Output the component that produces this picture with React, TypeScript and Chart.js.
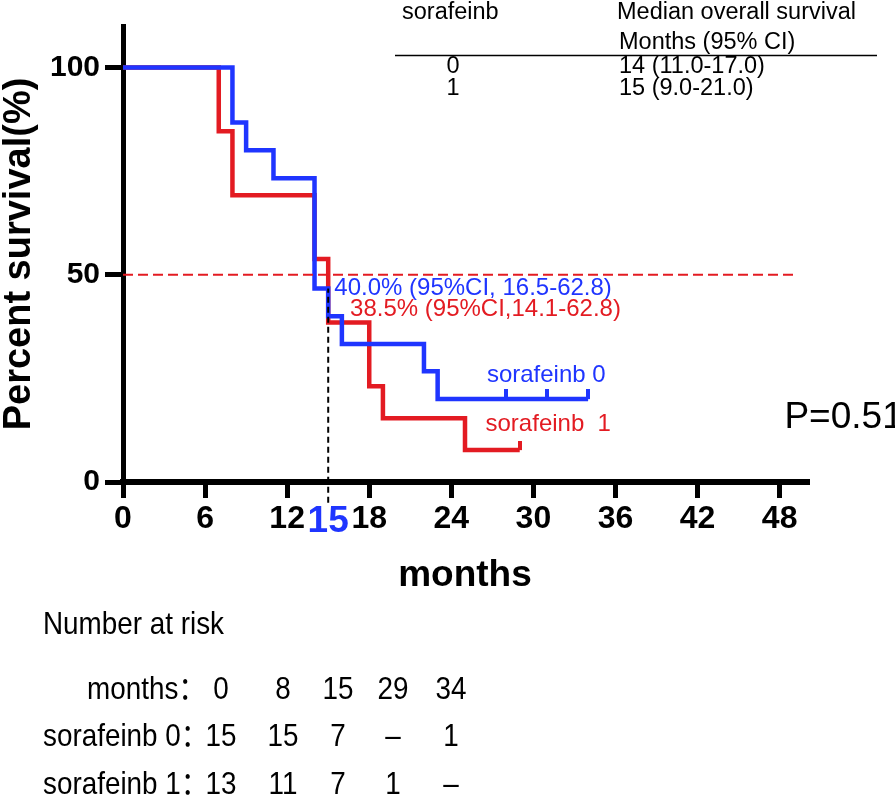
import { useEffect, useRef } from "react"
import { Chart, registerables } from "chart.js"

Chart.register(...registerables)

const FONT = '"Liberation Sans", Arial, "Noto Sans CJK SC", sans-serif'
const BLUE = "#1f35ff"
const RED = "#e31b22"

// axis ticks
const xTicks = [0, 6, 12, 15, 18, 24, 30, 36, 42, 48]
const yTicks = [0, 50, 100]

// Kaplan-Meier steps, sorafeinb 0
const months0 = [0, 8, 9, 11, 14, 15, 16, 22, 23, 34]
const survival0 = [100, 86.7, 80.0, 73.3, 46.7, 40.0, 33.3, 26.7, 20.0, 20.0]
const censorMonths0 = [28, 31, 34]
const censorSurvival0 = [20.0, 20.0, 20.0]

// Kaplan-Meier steps, sorafeinb 1
const months1 = [0, 7, 8, 14, 15, 18, 19, 25, 29]
const survival1 = [100, 84.6, 69.2, 53.8, 38.5, 23.1, 15.4, 7.7, 7.7]
const censorMonths1 = [29]
const censorSurvival1 = [7.7]

// reference lines
const medianMonths = [0, 49]
const medianSurvival = [50, 50]
const landmarkMonths = [15, 15]
const landmarkSurvival = [-5, 46.7]

// text
const landmarkLabel0 = "40.0% (95%CI, 16.5-62.8)"
const landmarkLabel1 = "38.5% (95%CI,14.1-62.8)"
const seriesNames = ["sorafeinb 0", "sorafeinb  1"]
const pValue = "P=0.51"

const medianHeader = ["sorafeinb", "Median overall survival", "Months (95% CI)"]
const medianGroups = ["0", "1"]
const medianValues = ["14 (11.0-17.0)", "15 (9.0-21.0)"]

const riskTitle = "Number at risk"
const riskRowLabels = ["months：", "sorafeinb 0：", "sorafeinb 1："]
const riskMonths = ["0", "8", "15", "29", "34"]
const risk0 = ["15", "15", "7", "–", "1"]
const risk1 = ["13", "11", "7", "1", "–"]

const toPoints = (xs: number[], ys: number[]) => xs.map((x, i) => ({ x, y: ys[i] }))

function tickMark(color: string, rise: number) {
  const c = document.createElement("canvas")
  c.width = 4
  c.height = rise * 2
  const g = c.getContext("2d")
  if (g) {
    g.fillStyle = color
    g.fillRect(0, 0, 4, rise)
  }
  return c
}

const textPlugin = {
  id: "kmText",
  afterDraw(chart: any) {
    const { ctx } = chart
    const xs = chart.scales.x
    const ys = chart.scales.y
    const put = (
      text: string,
      px: number,
      py: number,
      color: string,
      size: number,
      align: CanvasTextAlign = "left",
      squeeze = 1,
    ) => {
      ctx.save()
      ctx.font = `${size}px ${FONT}`
      ctx.fillStyle = color
      ctx.textAlign = align
      ctx.textBaseline = "middle"
      ctx.translate(px, py)
      ctx.scale(squeeze, 1)
      ctx.fillText(text, 0, 0)
      ctx.restore()
    }

    // annotations anchored in data space
    put(landmarkLabel0, xs.getPixelForValue(15.45), ys.getPixelForValue(46.8), BLUE, 24)
    put(landmarkLabel1, xs.getPixelForValue(16.6), ys.getPixelForValue(41.6), RED, 24)
    put(seriesNames[0], xs.getPixelForValue(26.6), ys.getPixelForValue(25.8), BLUE, 24)
    put(seriesNames[1], xs.getPixelForValue(26.5), ys.getPixelForValue(13.8), RED, 24)
    put(pValue, xs.getPixelForValue(48.35), ys.getPixelForValue(15.4), "#000", 37)

    // median survival table
    put(medianHeader[0], 402, 13, "#000", 23.5)
    put(medianHeader[1], 617, 13, "#000", 23.5)
    put(medianHeader[2], 619, 43, "#000", 23.5)
    ctx.save()
    ctx.strokeStyle = "#000"
    ctx.lineWidth = 1.5
    ctx.beginPath()
    ctx.moveTo(395, 55.5)
    ctx.lineTo(877, 55.5)
    ctx.stroke()
    ctx.restore()
    medianGroups.forEach((g, i) => {
      put(g, 453, 67 + i * 22, "#000", 23.5, "center")
      put(medianValues[i], 619, 67 + i * 22, "#000", 23.5)
    })

    // number at risk
    put(riskTitle, 43, 625, "#000", 32, "left", 0.87)
    const cols = [221, 283, 338, 393, 451]
    const rows = [riskMonths, risk0, risk1]
    rows.forEach((vals, r) => {
      const py = 690 + r * 47.5
      put(riskRowLabels[r], r === 0 ? 87 : 43, py, "#000", 32, "left", 0.87)
      vals.forEach((v, c) => put(v, cols[c], py, "#000", 32, "center", 0.87))
    })
  },
}

export default function App() {
  const chartRef = useRef<HTMLCanvasElement>(null)
  const chartInstance = useRef<Chart | null>(null)

  useEffect(() => {
    document.body.style.margin = "0"
    if (!chartRef.current) return
    if (chartInstance.current) chartInstance.current.destroy()
    const ctx = chartRef.current.getContext("2d")
    if (!ctx) return

    const is15 = (c: any) => c.tick && c.tick.value === 15

    chartInstance.current = new Chart(ctx, {
      type: "line",
      data: {
        datasets: [
          {
            label: "landmark",
            data: toPoints(landmarkMonths, landmarkSurvival),
            borderColor: "#000",
            borderWidth: 2,
            borderDash: [6, 4],
            pointRadius: 0,
            clip: false,
          },
          {
            label: "median",
            data: toPoints(medianMonths, medianSurvival),
            borderColor: RED,
            borderWidth: 2,
            borderDash: [10, 5],
            pointRadius: 0,
          },
          {
            label: "sorafeinb 0 censored",
            data: toPoints(censorMonths0, censorSurvival0),
            showLine: false,
            pointStyle: tickMark(BLUE, 10),
            pointRadius: 4,
          },
          {
            label: "sorafeinb 0",
            data: toPoints(months0, survival0),
            borderColor: BLUE,
            borderWidth: 4.5,
            borderJoinStyle: "miter",
            stepped: true,
            pointRadius: 0,
          },
          {
            label: "sorafeinb 1 censored",
            data: toPoints(censorMonths1, censorSurvival1),
            showLine: false,
            pointStyle: tickMark(RED, 9),
            pointRadius: 4,
          },
          {
            label: "sorafeinb 1",
            data: toPoints(months1, survival1),
            borderColor: RED,
            borderWidth: 4.5,
            borderJoinStyle: "miter",
            stepped: true,
            pointRadius: 0,
          },
        ],
      },
      options: {
        responsive: false,
        animation: false,
        layout: { padding: { top: 26, right: 88, bottom: 199, left: 0 } },
        plugins: {
          legend: { display: false },
          tooltip: { enabled: false },
        },
        scales: {
          x: {
            type: "linear",
            min: 0,
            max: 50,
            afterBuildTicks: (s: any) => {
              s.ticks = xTicks.map((v) => ({ value: v }))
            },
            afterFit: (s: any) => {
              s.height = 120
            },
            grid: {
              drawOnChartArea: false,
              tickLength: 16,
              lineWidth: 5,
              color: (c: any) => (is15(c) ? "rgba(0,0,0,0)" : "#000"),
            },
            border: { display: true, color: "#000", width: 6 },
            ticks: {
              autoSkip: false,
              maxRotation: 0,
              padding: 2,
              color: (c: any) => (is15(c) ? BLUE : "#000"),
              font: (c: any) => ({ family: FONT, size: is15(c) ? 37 : 32, weight: "bold" }),
              callback: (v: any) => String(v),
            },
            title: {
              display: true,
              text: "months",
              color: "#000",
              font: { family: FONT, size: 37, weight: "bold" },
              padding: { top: 0, bottom: 4 },
            },
          },
          y: {
            min: 0,
            max: 110,
            afterBuildTicks: (s: any) => {
              s.ticks = yTicks.map((v) => ({ value: v }))
            },
            afterFit: (s: any) => {
              s.width = 123
            },
            grid: {
              drawOnChartArea: false,
              tickLength: 18,
              lineWidth: 5,
              color: "#000",
            },
            border: { display: true, color: "#000", width: 5 },
            ticks: {
              padding: 5,
              color: "#000",
              font: { family: FONT, size: 30, weight: "bold" },
            },
            title: {
              display: true,
              text: "Percent survival(%)",
              color: "#000",
              font: { family: FONT, size: 38, weight: "bold", lineHeight: 1 },
              padding: { top: 1, bottom: 0 },
            },
          },
        },
      },
      plugins: [textPlugin],
    })

    return () => {
      if (chartInstance.current) {
        chartInstance.current.destroy()
        chartInstance.current = null
      }
    }
  }, [])

  return <canvas ref={chartRef} width={895} height={801} style={{ display: "block" }} />
}
